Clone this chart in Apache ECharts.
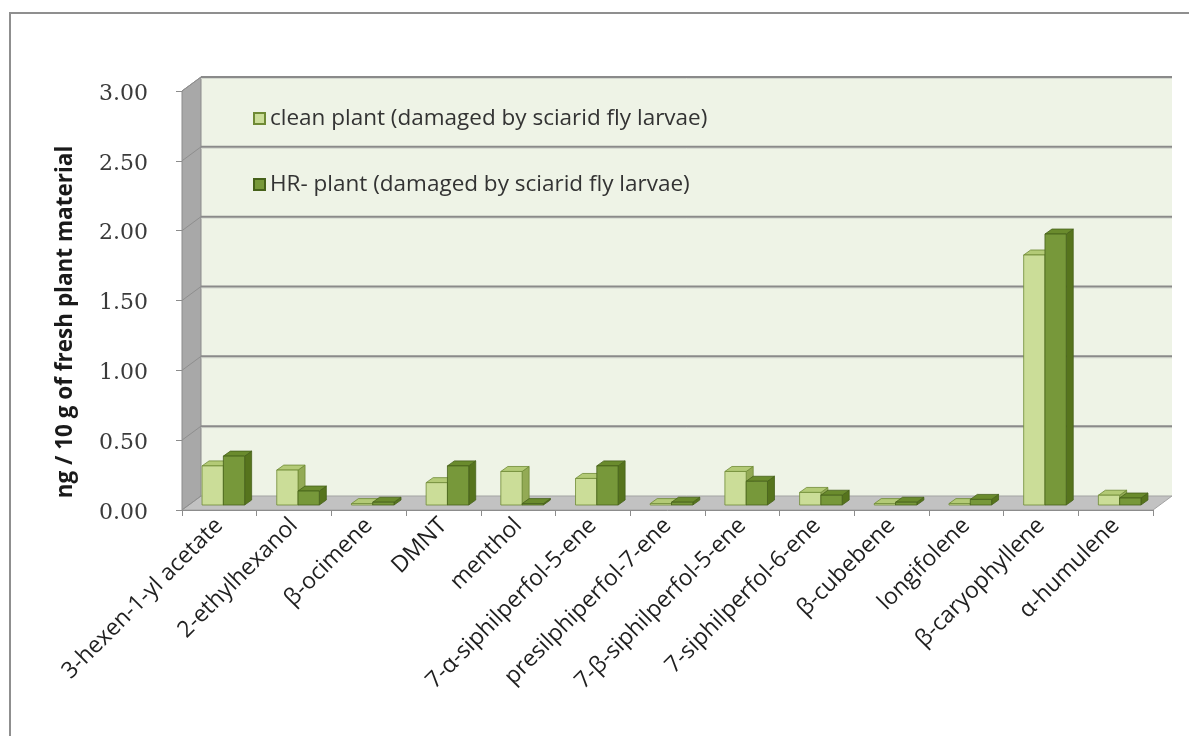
<!DOCTYPE html>
<html>
<head>
<meta charset="utf-8">
<script src="https://cdn.jsdelivr.net/npm/echarts@6/dist/echarts.min.js"></script>
<style>
html,body{margin:0;padding:0;background:#fff;}
#chart{width:1189px;height:736px;}
</style>
</head>
<body>
<div id="chart"></div>
<script>
// ---- data ----
const categories = [
  '3-hexen-1-yl acetate', '2-ethylhexanol', 'β-ocimene', 'DMNT', 'menthol',
  '7-α-siphilperfol-5-ene', 'presilphiperfol-7-ene', '7-β-siphilperfol-5-ene',
  '7-siphilperfol-6-ene', 'β-cubebene', 'longifolene', 'β-caryophyllene', 'α-humulene'
];
const cleanPlant = [0.28, 0.25, 0.01, 0.16, 0.24, 0.19, 0.01, 0.24, 0.09, 0.01, 0.01, 1.79, 0.07];
const hrPlant    = [0.35, 0.10, 0.02, 0.28, 0.01, 0.28, 0.02, 0.17, 0.07, 0.02, 0.04, 1.94, 0.05];
const yTicks = [0, 0.5, 1.0, 1.5, 2.0, 2.5, 3.0];
const seriesNames = ['clean plant (damaged by sciarid fly larvae)', 'HR- plant (damaged by sciarid fly larvae)'];
const yTitle = 'ng / 10 g of fresh plant material';

// ---- style constants ----
const WALL_DX = 19, WALL_DY = -14;   // depth of the 3D box
const BAR_SX = 4, BAR_SY = -5;       // bar front-face shift into depth
const BAR_DX = 7, BAR_DY = -5;       // bar depth
const BAR_FRAC = 0.285;
const LIGHT = {front: '#cbdd98', top: '#b3ca76', side: '#93aa55', edge: '#6f8a35'};
const DARK  = {front: '#77983a', top: '#6a8b2d', side: '#56741d', edge: '#46611a'};

const chart = echarts.init(document.getElementById('chart'), null, {renderer: 'canvas'});

function frameRender(params, api) {
  const cs = params.coordSys;
  const x0 = cs.x, x1 = cs.x + cs.width;
  const yb = api.coord([0, 0])[1];
  const yt = api.coord([0, yTicks[yTicks.length - 1]])[1];
  const children = [];
  children.push({type: 'rect', shape: {x: x0 + WALL_DX, y: yt + WALL_DY, width: x1 - x0, height: yb - yt},
    style: {fill: '#eef3e6'}});
  children.push({type: 'polygon', shape: {points: [[x0, yb], [x0, yt], [x0 + WALL_DX, yt + WALL_DY], [x0 + WALL_DX, yb + WALL_DY]]},
    style: {fill: '#a8a8a8', stroke: '#8c8c8c', lineWidth: 1}});
  children.push({type: 'polygon', shape: {points: [[x0, yb], [x1, yb], [x1 + WALL_DX, yb + WALL_DY], [x0 + WALL_DX, yb + WALL_DY]]},
    style: {fill: '#c2c2c2', stroke: '#a3a3a3', lineWidth: 1}});
  yTicks.forEach(function (v) {
    const y = api.coord([0, v])[1];
    if (v > 0) {
      children.push({type: 'line', shape: {x1: x0 + WALL_DX, y1: y + WALL_DY + 1.5, x2: x1 + WALL_DX, y2: y + WALL_DY + 1.5},
        style: {stroke: '#d4d8cf', lineWidth: 1}});
      children.push({type: 'line', shape: {x1: x0 + WALL_DX, y1: y + WALL_DY, x2: x1 + WALL_DX, y2: y + WALL_DY},
        style: {stroke: '#8a8a8a', lineWidth: 2}});
    }
    children.push({type: 'line', shape: {x1: x0, y1: y, x2: x0 + WALL_DX, y2: y + WALL_DY},
      style: {stroke: '#8e8e8e', lineWidth: 1}});
  });
  return {type: 'group', children: children};
}

function makeBarRender(side, pal) {
  return function (params, api) {
    const cat = api.value(0), v = api.value(1);
    const base = api.coord([cat, 0]);
    const top = api.coord([cat, v]);
    const band = api.size([1, 0])[0];
    const w = band * BAR_FRAC;
    const x = base[0] + BAR_SX + (side < 0 ? -w : 0);
    const yb = base[1] + BAR_SY;
    const yt = Math.min(top[1] + BAR_SY, yb - 1);
    return {type: 'group', children: [
      {type: 'polygon', shape: {points: [[x + w, yt], [x + w + BAR_DX, yt + BAR_DY], [x + w + BAR_DX, yb + BAR_DY], [x + w, yb]]},
        style: {fill: pal.side, stroke: pal.edge, lineWidth: 0.8}},
      {type: 'polygon', shape: {points: [[x, yt], [x + w, yt], [x + w + BAR_DX, yt + BAR_DY], [x + BAR_DX, yt + BAR_DY]]},
        style: {fill: pal.top, stroke: pal.edge, lineWidth: 0.8}},
      {type: 'rect', shape: {x: x, y: yt, width: w, height: yb - yt},
        style: {fill: pal.front, stroke: pal.edge, lineWidth: 0.8}}
    ]};
  };
}

const option = {
  backgroundColor: '#ffffff',
  animation: false,
  textStyle: {fontFamily: 'Open Sans'},
  graphic: [
    {type: 'rect', shape: {x: 10, y: 13, width: 1300, height: 900}, style: {fill: 'none', stroke: '#8f8f8f', lineWidth: 2}, z: -10},
    {type: 'text', x: 66, y: 322, rotation: Math.PI / 2,
      style: {text: yTitle, font: 'bold 22.5px "Open Sans"', fill: '#1a1a1a', textAlign: 'center', textVerticalAlign: 'middle'}}
  ],
  legend: {
    data: seriesNames,
    orient: 'vertical',
    left: 248,
    top: 102,
    itemGap: 43,
    itemWidth: 11,
    itemHeight: 11,
    icon: 'rect',
    textStyle: {fontFamily: 'Open Sans', fontSize: 22.5, color: '#333'},
    z: 20
  },
  grid: {left: 182, right: 36, top: 91, bottom: 226, containLabel: false},
  xAxis: {
    type: 'category',
    data: categories,
    boundaryGap: true,
    axisLine: {show: true, lineStyle: {color: '#8c8c8c', width: 1}},
    axisTick: {show: true, length: 6, lineStyle: {color: '#8c8c8c'}},
    axisLabel: {rotate: 45, margin: 12, fontFamily: 'Open Sans', fontSize: 23, color: '#1f1f1f', interval: 0},
    splitLine: {show: false},
    z: 5
  },
  yAxis: {
    type: 'value',
    min: 0, max: 3, interval: 0.5,
    axisLine: {show: true, lineStyle: {color: '#8c8c8c', width: 1}},
    axisTick: {show: true, length: 6, lineStyle: {color: '#8c8c8c'}},
    axisLabel: {margin: 34, fontFamily: 'DejaVu Serif', fontSize: 22, color: '#3a3a3a',
      verticalAlign: 'top', lineHeight: 6,
      formatter: function (v) { return v.toFixed(2); }},
    splitLine: {show: false}
  },
  series: [
    {type: 'custom', name: 'frame', renderItem: frameRender, data: [[0, 0]], z: 1, silent: true},
    {type: 'custom', name: seriesNames[0], renderItem: makeBarRender(-1, LIGHT), z: 3,
      itemStyle: {color: LIGHT.front, borderColor: LIGHT.edge, borderWidth: 1},
      encode: {x: 0, y: 1},
      data: cleanPlant.map(function (v, i) { return [i, v]; })},
    {type: 'custom', name: seriesNames[1], renderItem: makeBarRender(1, DARK), z: 4,
      itemStyle: {color: DARK.front, borderColor: DARK.edge, borderWidth: 1},
      encode: {x: 0, y: 1},
      data: hrPlant.map(function (v, i) { return [i, v]; })}
  ]
};
chart.setOption(option);
</script>
</body>
</html>
